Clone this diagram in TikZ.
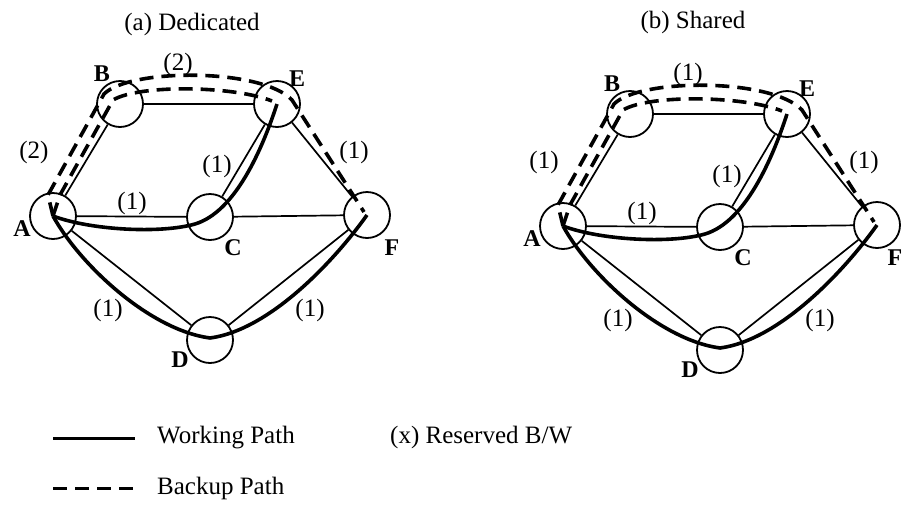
\documentclass[tikz,border=0pt]{standalone}
\usepackage{fontspec}
\setmainfont{Liberation Serif}
\newcommand\drawpanel[4]{%
\begin{scope}[shift={#3}, name prefix=#1-]
  \node[nd] (A) at (53,216) {};
  \node[nd] (B) at (120,104) {};
  \node[nd] (E) at (277,104) {};
  \node[nd] (C) at (210,217) {};
  \node[nd] (F) at (367,215) {};
  \node[nd] (D) at (210,340) {};
  \draw[edge] (A)--(B) (B)--(E) (E)--(F) (A)--(C) (C)--(F) (C)--(E) (A)--(D) (D)--(F);
  \draw[working] (A.center) .. controls (90,230) and (160,234) .. (195,224) .. controls (235,212) and (262,150) .. (E.center);
  \draw[working] (A.center) .. controls (80,265) and (150,330) .. (210,338) .. controls (270,330) and (335,260) .. (F.center);
  \draw[backup] (A.center) -- (48,195) -- (104,94) .. controls (130,68) and (262,68) .. (292,100) -- (364,212);
  \draw[backup] (A.center) -- (60,195) -- (113,100) .. controls (140,84) and (235,86) .. (272,101);
  \node[nlbl] (lA) at (22,229) {A};
  \node[nlbl] (lB) at (102,74) {B};
  \node[nlbl] (lE) at (297,79) {E};
  \node[nlbl] (lC) at (233,248) {C};
  \node[nlbl] (lF) at (#4,248) {F};
  \node[nlbl] (lD) at (180,360) {D};
  \node[txt] (eBE) at (178,64) {#2};
  \node[txt] (eAB) at (34,152) {#2};
  \node[txt] (eCE) at (217,166) {(1)};
  \node[txt] (eAC) at (132,203) {(1)};
  \node[txt] (eEF) at (354,152) {(1)};
  \node[txt] (eAD) at (108,310) {(1)};
  \node[txt] (eDF) at (310,310) {(1)};
\end{scope}}
\begin{document}
\begin{tikzpicture}[x=1pt,y=-1pt,
  nd/.style={circle,draw,line width=1.8pt,minimum size=46pt,inner sep=0pt},
  edge/.style={line width=1.7pt},
  working/.style={line width=3.6pt},
  backup/.style={line width=3.6pt,dash pattern=on 14pt off 8pt},
  txt/.style={font=\fontsize{25}{28}\selectfont, inner sep=0pt},
  nlbl/.style={font=\fontsize{24}{28}\selectfont\bfseries, inner sep=0pt}]
  \clip (0,0) rectangle (904,509);
  \node[txt] (ta) at (192,24) {(a) Dedicated};
  \node[txt] (tb) at (693,22) {(b) Shared};
  \drawpanel{a}{(2)}{(0,0)}{392}
  \drawpanel{b}{(1)}{(510,10)}{385}
  \coordinate (w1) at (53,438);
  \coordinate (w2) at (135,438);
  \draw[working,line width=3pt] (w1) -- (w2);
  \node[txt,anchor=west] (wt) at (157,438) {Working Path};
  \coordinate (b1) at (53,488);
  \coordinate (b2) at (135,488);
  \draw[backup,line width=3pt] (b1) -- (b2);
  \node[txt,anchor=west] (bt) at (157,488) {Backup Path};
  \node[txt,anchor=west] (rt) at (390,437) {(x) Reserved B/W};
\end{tikzpicture}
\end{document}
